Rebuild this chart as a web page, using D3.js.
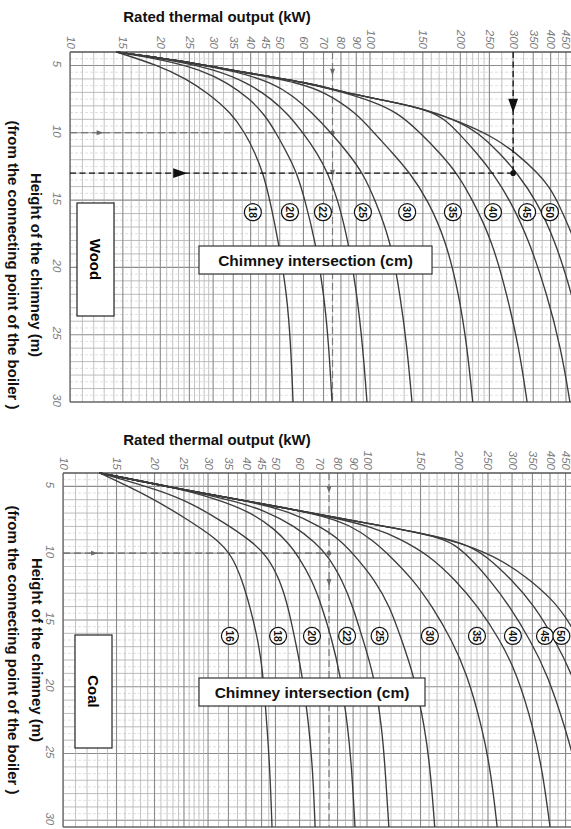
<!DOCTYPE html>
<html><head><meta charset="utf-8">
<script src="https://cdn.jsdelivr.net/npm/d3@7/dist/d3.min.js"></script>
<style>
body{margin:0;background:#fff;}
svg{display:block;}
text{font-family:"Liberation Sans",Arial,sans-serif;}
</style>
</head><body>
<svg id="c" width="571" height="829"></svg>
<script>
// ---------- tick labels ----------
const xTickLabels = [10,15,20,25,30,35,40,45,50,60,70,80,90,100,150,200,250,300,350,400,450];
const xMinorGrid = [11,12,13,14,16,17,18,19,21,22,23,24,26,27,28,29,32.5,37.5,42.5,47.5,55,65,75,85,95,110,120,130,140,160,170,180,190,210,220,230,240,275,325,375,425,500];
const yTickLabels = [5,10,15,20,25,30];

// ---------- Wood : chimney intersection (cm) -> [kW, height m] ----------
const woodDiameters = [18,20,22,25,30,35,40,45,50];
const wood18 = [[14.3,4],[19.7,5],[24.4,6],[28.6,7],[34.4,8.5],[38.3,10],[41.4,11.5],[44.0,13],[46.4,15],[49.4,18],[52.9,22],[54.5,26],[55.4,30]];
const wood20 = [[14.3,4],[20.7,4.6],[27.1,5.3],[33.6,6.3],[39.8,7.5],[44.7,8.7],[48.6,10],[52.9,11.5],[57.1,13],[60.7,15],[65.6,18],[70.3,22],[73.0,26],[74.7,30]];
const wood22 = [[14.3,4],[21.9,4.6],[30.4,5.3],[39.2,6.3],[47.1,7.5],[53.7,8.7],[59.8,10],[66.6,11.5],[72.4,13],[78.2,15],[84.5,18],[90.5,22],[94.7,26],[97.7,30]];
const wood25 = [[14.3,4],[22.7,4.6],[36.9,5.5],[47.1,6.3],[55.0,7.2],[64.1,8.5],[74.1,10],[84.5,11.5],[94.7,13],[104,15],[117,18],[126,22],[133,26],[138,30]];
const wood30 = [[14.3,4],[22.7,4.6],[37.7,5.5],[58.4,6.3],[70.8,7.0],[89.8,8.5],[103,10],[119,11.5],[136,13],[156,15],[179,18],[198,22],[211,26],[220,30]];
const wood35 = [[14.3,4],[22.7,4.6],[37.7,5.5],[62.2,6.3],[81.3,7.0],[100,7.6],[124,8.5],[147,10],[171,11.5],[195,13],[220,15],[255,18],[286,22],[314,26],[334,30]];
const wood40 = [[14.3,4],[22.7,4.6],[37.7,5.5],[63.1,6.3],[81.3,7.0],[119,7.7],[155,8.3],[178,9.0],[197,10],[227,11.5],[257,13],[293,15],[339,18],[389,22],[433,26],[464,30]];
const wood45 = [[14.3,4],[22.7,4.6],[37.7,5.5],[63.1,6.3],[81.3,7.0],[119,7.7],[155,8.3],[200,9.2],[229,10],[271,11.5],[309,13],[358,15],[414,18],[471,22],[521,26],[554,30]];
const wood50 = [[14.3,4],[22.7,4.6],[37.7,5.5],[63.1,6.3],[81.3,7.0],[119,7.7],[155,8.3],[200,9.2],[257,10.3],[307,11.5],[363,13],[395,14],[420,15],[482,18],[562,22],[631,26],[681,30]];
const woodLabelKW = [40.7,54.1,69.7,94.7,133,189,257,334,398];
const woodLabelH = 15.9;

// ---------- Coal ----------
const coalDiameters = [16,18,20,22,25,30,35,40,45,50];
const coal16 = [[13.2,4],[19.3,5.76],[25.6,7.46],[32.1,8.93],[36.0,10.2],[38.8,12],[41.2,14],[43.8,16.5],[45.5,19],[46.9,23],[48.0,26.5],[48.7,30.5]];
const coal18 = [[13.2,4],[20.9,5.3],[26.6,6.3],[33.3,7.6],[41.2,9],[46.9,10.2],[51.7,12],[55.0,14],[58.0,16.5],[61.1,19],[64.5,23],[66.4,26.5],[67.5,30.5]];
const coal20 = [[13.2,4],[22.5,5.0],[31.6,5.9],[41.2,6.9],[49.8,8.2],[55.8,9.4],[59.3,10.2],[65.9,12],[71.1,14],[76.7,16.5],[81.5,19],[86.6,23],[89.3,26.5],[91.3,30.5]];
const coal22 = [[13.2,4],[24.8,5.25],[35.4,6.0],[46.2,6.8],[58.0,8.0],[67.5,9.2],[74.4,10.2],[82.8,12],[89.9,14],[97.0,16.5],[105,19],[112,23],[115,26.5],[118,30.5]];
const coal25 = [[13.2,4],[24.8,5.25],[41.2,6.13],[55.8,6.9],[70.0,8.0],[81.5,9.0],[91.3,10.2],[106,12],[119,14],[130,16.5],[142,19],[155,23],[162,26.5],[167,30.5]];
const coal30 = [[13.2,4],[24.8,5.25],[41.2,6.13],[70.0,7.1],[87.9,7.9],[104,9.0],[119,10.2],[142,12],[164,14],[190,16.5],[213,19],[239,23],[256,26.5],[268,30.5]];
const coal35 = [[13.2,4],[24.8,5.25],[41.2,6.13],[77.3,7.3],[106,8.1],[128,8.9],[161,10.2],[195,12],[232,14],[274,16.5],[311,19],[352,23],[379,26.5],[400,30.5]];
const coal40 = [[13.2,4],[24.8,5.25],[41.2,6.13],[77.3,7.3],[113,7.97],[174,8.8],[195,9.4],[215,10.2],[254,12],[295,14],[344,16.5],[391,19],[448,23],[494,26.5],[533,30.5]];
const coal45 = [[13.2,4],[24.8,5.25],[41.2,6.13],[77.3,7.3],[113,7.97],[188,8.93],[222,9.6],[246,10.2],[300,12],[357,14],[415,16.5],[472,19],[542,23],[597,26.5],[640,30.5]];
const coal50 = [[13.2,4],[24.8,5.25],[41.2,6.13],[77.3,7.3],[113,7.97],[188,8.93],[264,10.2],[336,11.8],[409,13.5],[465,15.2],[542,18],[630,22],[706,26],[761,30.5]];
const coalLabelKW = [35.4,51.0,65.9,86.0,110,161,230,302,385,436];
const coalLabelH = 16.2;

// ---------- worked examples ----------
const woodExampleGray = {kW:75, h:10};
const woodExampleBlack = {kW:300, h:13};
const coalExampleGray = {kW:75, h:10};

const svg = d3.select('#c');
svg.append('rect').attr('width',571).attr('height',829).attr('fill','#fff');

function tri(g, cx, cy, dir, s, color){
  let p;
  if(dir==='right') p=[[cx+s,cy],[cx-s,cy-s*0.7],[cx-s,cy+s*0.7]];
  else p=[[cx,cy+s],[cx-s*0.7,cy-s],[cx+s*0.7,cy-s]];
  g.append('path').attr('d','M'+p.map(q=>q.join(',')).join('L')+'Z').attr('fill',color);
}

function panel(o){
  const x = d3.scaleLog().domain([10,1000]).range([o.left, o.left+2*o.decade]);
  const y = d3.scaleLinear().domain([4,o.hMax]).range([o.top, o.bottom]);
  const g = svg.append('g');
  const cid = 'clip'+o.name;
  svg.append('clipPath').attr('id',cid).append('rect')
    .attr('x',o.left).attr('y',o.top-1).attr('width',571-o.left).attr('height',o.bottom-o.top+2);
  const grid = g.append('g').attr('clip-path',`url(#${cid})`);
  grid.selectAll('line.hh').data(d3.range(4.5,o.hMax,1)).join('line')
    .attr('x1',o.left).attr('x2',571).attr('y1',d=>y(d)).attr('y2',d=>y(d))
    .attr('stroke','#d2d2d2').attr('stroke-width',0.7).attr('stroke-dasharray','3,2');
  grid.selectAll('line.hm').data(d3.range(5,o.hMax,1)).join('line')
    .attr('x1',o.left).attr('x2',571).attr('y1',d=>y(d)).attr('y2',d=>y(d))
    .attr('stroke',d=>d%5===0?'#8c8c8c':'#ababab').attr('stroke-width',d=>d%5===0?1.1:0.8);
  grid.selectAll('line.vm').data(xMinorGrid).join('line')
    .attr('x1',d=>x(d)).attr('x2',d=>x(d)).attr('y1',o.top).attr('y2',o.bottom)
    .attr('stroke','#b4b4b4').attr('stroke-width',0.8);
  grid.selectAll('line.vM').data(xTickLabels.concat([500])).join('line')
    .attr('x1',d=>x(d)).attr('x2',d=>x(d)).attr('y1',o.top).attr('y2',o.bottom)
    .attr('stroke','#8a8a8a').attr('stroke-width',1.1);
  g.append('line').attr('x1',o.left).attr('x2',571).attr('y1',o.top).attr('y2',o.top).attr('stroke','#555').attr('stroke-width',1.6);
  g.append('line').attr('x1',o.left).attr('x2',571).attr('y1',o.bottom).attr('y2',o.bottom).attr('stroke','#666').attr('stroke-width',1.3);
  g.append('line').attr('x1',x(10)).attr('x2',x(10)).attr('y1',o.top).attr('y2',o.bottom).attr('stroke','#666').attr('stroke-width',1.3);

  const ax = g.append('g').attr('transform',`translate(0,${o.top})`)
    .call(d3.axisTop(x).tickValues(xTickLabels).tickSize(0).tickFormat(d3.format('d')));
  ax.select('.domain').remove();
  ax.selectAll('text').attr('y',0).attr('dy',null)
    .attr('transform','translate(0,-3) rotate(90)').attr('text-anchor','end')
    .attr('dominant-baseline','central').attr('font-size',11.5)
    .attr('font-family','"Liberation Sans",Arial,sans-serif').attr('fill','#7a7a7a').attr('font-style','italic');
  const ay = g.append('g').attr('transform',`translate(${o.left},0)`)
    .call(d3.axisLeft(y).tickValues(yTickLabels).tickSize(0));
  ay.select('.domain').remove();
  ay.selectAll('text').attr('x',0).attr('dy',null)
    .attr('transform',`translate(${o.ylabX-o.left},-2) rotate(90)`).attr('text-anchor','middle')
    .attr('dominant-baseline','central').attr('font-size',11.5)
    .attr('font-family','"Liberation Sans",Arial,sans-serif').attr('fill','#7a7a7a').attr('font-style','italic');

  const ex = o.gray;
  const dg = g.append('g');
  dg.append('line').attr('x1',x(10)).attr('x2',x(ex.kW)).attr('y1',y(ex.h)).attr('y2',y(ex.h))
    .attr('stroke','#6a6a6a').attr('stroke-width',1.2).attr('stroke-dasharray','7,4');
  dg.append('line').attr('x1',x(ex.kW)).attr('x2',x(ex.kW)).attr('y1',o.top).attr('y2',o.bottom)
    .attr('stroke','#7a7a7a').attr('stroke-width',1.2).attr('stroke-dasharray','7,4');
  tri(dg, x(o.grayArrowKW), y(ex.h), 'right', 3.5, '#6a6a6a');
  o.grayDownH.forEach(h=>tri(dg, x(ex.kW), y(h), 'down', 3.5, '#6a6a6a'));
  dg.append('circle').attr('cx',x(ex.kW)).attr('cy',y(ex.h)).attr('r',2.2).attr('fill','#666');

  const line = d3.line().x(d=>x(d[0])).y(d=>y(d[1])).curve(d3.curveBasis);
  g.append('g').attr('clip-path',`url(#${cid})`).selectAll('path').data(o.curves).join('path')
    .attr('d',line).attr('fill','none').attr('stroke','#3c3c3c').attr('stroke-width',1.35);

  if(o.black){
    const b=o.black;
    const bg=g.append('g');
    bg.append('line').attr('x1',x(10)).attr('x2',x(b.kW)).attr('y1',y(b.h)).attr('y2',y(b.h))
      .attr('stroke','#111').attr('stroke-width',1.3).attr('stroke-dasharray','6,3.5');
    bg.append('line').attr('x1',x(b.kW)).attr('x2',x(b.kW)).attr('y1',o.top).attr('y2',y(b.h))
      .attr('stroke','#111').attr('stroke-width',1.3).attr('stroke-dasharray','6,3.5');
    tri(bg, x(o.blackArrowKW), y(b.h), 'right', 7, '#111');
    tri(bg, x(b.kW), y(o.blackArrowH), 'down', 7, '#111');
    bg.append('circle').attr('cx',x(b.kW)).attr('cy',y(b.h)).attr('r',2.8).attr('fill','#111');
  }

  const lg = g.append('g').selectAll('g').data(o.diameters).join('g')
    .attr('transform',(d,i)=>`translate(${x(o.labelKW[i])},${y(o.labelH)})`);
  lg.append('circle').attr('r',8.5).attr('fill','#fff').attr('stroke','#111').attr('stroke-width',1.2);
  lg.append('text').attr('transform','rotate(90)').attr('text-anchor','middle').attr('dominant-baseline','central')
    .attr('font-size',10.5).attr('font-weight','bold').attr('fill','#111').text(d=>d);

  g.append('rect').attr('x',o.matBox[0]).attr('y',o.matBox[1]).attr('width',o.matBox[2]).attr('height',o.matBox[3])
    .attr('fill','#fff').attr('stroke','#222').attr('stroke-width',1.2);
  g.append('text').attr('transform',`translate(${o.matBox[0]+o.matBox[2]/2},${o.matBox[1]+o.matBox[3]/2}) rotate(90)`)
    .attr('text-anchor','middle').attr('dominant-baseline','central').attr('font-size',15).attr('font-weight','bold').text(o.material);
  g.append('rect').attr('x',o.chBox[0]).attr('y',o.chBox[1]).attr('width',o.chBox[2]).attr('height',o.chBox[3])
    .attr('fill','#fff').attr('stroke','#333').attr('stroke-width',1.2);
  g.append('text').attr('x',o.chBox[0]+o.chBox[2]/2).attr('y',o.chBox[1]+o.chBox[3]/2+5.5)
    .attr('text-anchor','middle').attr('font-size',15.5).attr('font-weight','bold').attr('fill','#111').text('Chimney intersection (cm)');

  g.append('text').attr('x',o.titleX).attr('y',o.titleY).attr('text-anchor','middle')
    .attr('font-size',15).attr('font-weight','bold').attr('fill','#111').text('Rated thermal output (kW)');
  g.append('text').attr('transform',`translate(${o.ytitleX1},${o.ytitleY}) rotate(90)`)
    .attr('text-anchor','middle').attr('dominant-baseline','central').attr('font-size',15).attr('font-weight','bold').attr('fill','#111')
    .text('Height of the chimney (m)');
  g.append('text').attr('transform',`translate(${o.ytitleX2},${o.ytitleY}) rotate(90)`)
    .attr('text-anchor','middle').attr('dominant-baseline','central').attr('font-size',15).attr('font-weight','bold').attr('fill','#111')
    .text('(from the connecting point of the boiler )');
}

panel({
  name:'wood', left:70, decade:300, top:52, bottom:402, hMax:30, ylabX:57,
  curves:[wood18,wood20,wood22,wood25,wood30,wood35,wood40,wood45,wood50],
  diameters:woodDiameters, labelKW:woodLabelKW, labelH:woodLabelH,
  gray:woodExampleGray, grayArrowKW:12.6, grayDownH:[5.5,13],
  black:woodExampleBlack, blackArrowKW:23.3, blackArrowH:8.0,
  material:'Wood', matBox:[77,203,37,113], chBox:[199,246,233,28],
  titleX:217, titleY:22, ytitleX1:36, ytitleX2:13, ytitleY:265
});
panel({
  name:'coal', left:63, decade:304, top:473, bottom:827, hMax:30.5, ylabX:50,
  curves:[coal16,coal18,coal20,coal22,coal25,coal30,coal35,coal40,coal45,coal50],
  diameters:coalDiameters, labelKW:coalLabelKW, labelH:coalLabelH,
  gray:coalExampleGray, grayArrowKW:12.7, grayDownH:[5.25,12.2],
  black:null,
  material:'Coal', matBox:[75,635,37,113], chBox:[199,678,226,28],
  titleX:217, titleY:445, ytitleX1:37, ytitleX2:13, ytitleY:650
});
</script>
</body></html>
